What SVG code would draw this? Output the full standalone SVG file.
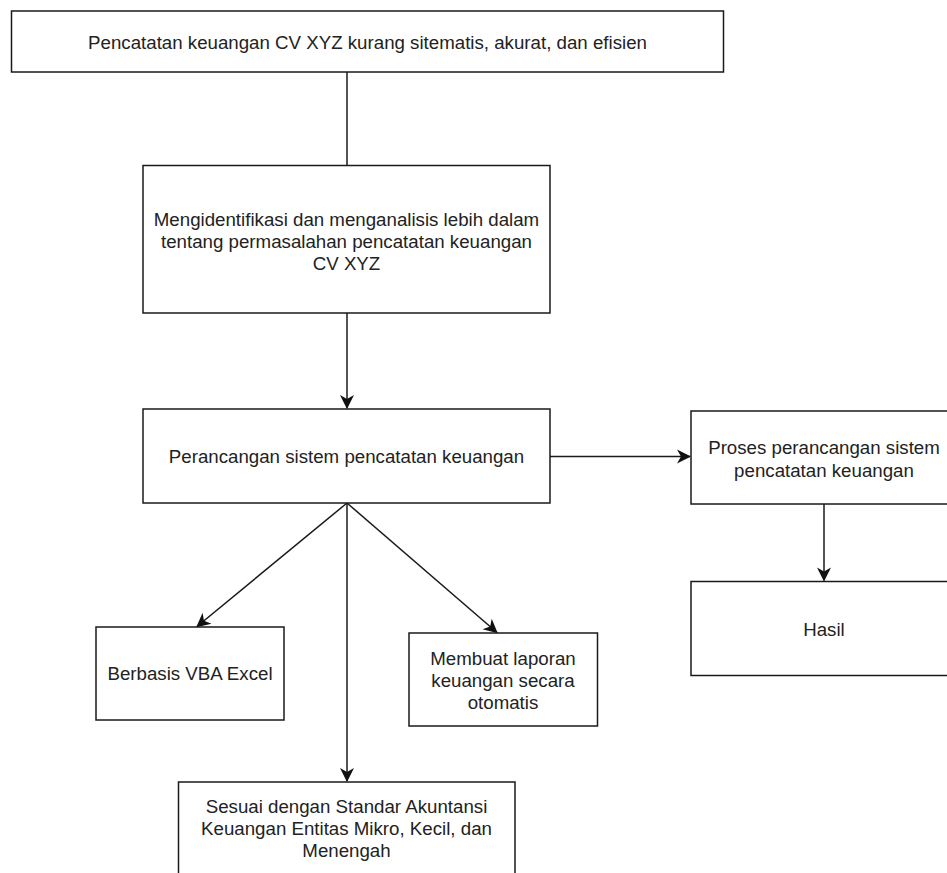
<svg xmlns="http://www.w3.org/2000/svg" width="947" height="873" viewBox="0 0 947 873">
<style>
.box{fill:#fff;stroke:#1a1a1a;stroke-width:1.5}
.t{font-family:"Liberation Sans",Arial,sans-serif;font-size:18.7px;fill:#222;text-anchor:middle}
.c{fill:none;stroke:#1a1a1a;stroke-width:1.5}
</style>
<defs>
<marker id="ah" markerUnits="userSpaceOnUse" markerWidth="16" markerHeight="16" viewBox="0 0 16 16" refX="14" refY="8" orient="auto">
<path d="M1,1 L15,8 L1,15 L5,8 z" fill="#111"/>
</marker>
</defs>
<rect width="947" height="873" fill="#fff"/>
<g id="connectors">
<line class="c" x1="347" y1="72" x2="347" y2="165.5"/>
<line class="c" x1="347" y1="313" x2="347" y2="408" marker-end="url(#ah)"/>
<line class="c" x1="550" y1="456.5" x2="690" y2="456.5" marker-end="url(#ah)"/>
<line class="c" x1="824" y1="504" x2="824" y2="580.5" marker-end="url(#ah)"/>
<line class="c" x1="347" y1="503" x2="197" y2="626.5" marker-end="url(#ah)"/>
<line class="c" x1="347" y1="503" x2="497" y2="632.5" marker-end="url(#ah)"/>
<line class="c" x1="347" y1="503" x2="347" y2="781" marker-end="url(#ah)"/>
</g>
<g id="n1">
<rect class="box" x="11.5" y="11" width="712" height="61"/>
<text class="t" x="367.5" y="48.5">Pencatatan keuangan CV XYZ kurang sitematis, akurat, dan efisien</text>
</g>
<g id="n2">
<rect class="box" x="143" y="165.5" width="407" height="147.5"/>
<text class="t" x="346.5" y="226">Mengidentifikasi dan menganalisis lebih dalam</text>
<text class="t" x="346.5" y="248">tentang permasalahan pencatatan keuangan</text>
<text class="t" x="346.5" y="270">CV XYZ</text>
</g>
<g id="n3">
<rect class="box" x="143" y="409" width="407" height="94"/>
<text class="t" x="346.5" y="463">Perancangan sistem pencatatan keuangan</text>
</g>
<g id="n4">
<rect class="box" x="691" y="411" width="266" height="93"/>
<text class="t" x="824" y="454">Proses perancangan sistem</text>
<text class="t" x="824" y="476.5">pencatatan keuangan</text>
</g>
<g id="n5">
<rect class="box" x="691" y="581.5" width="266" height="94"/>
<text class="t" x="824" y="636">Hasil</text>
</g>
<g id="n6">
<rect class="box" x="96" y="627" width="188" height="93"/>
<text class="t" x="190" y="680">Berbasis VBA Excel</text>
</g>
<g id="n7">
<rect class="box" x="409" y="633" width="188.5" height="93"/>
<text class="t" x="503" y="665">Membuat laporan</text>
<text class="t" x="503" y="687">keuangan secara</text>
<text class="t" x="503" y="709">otomatis</text>
</g>
<g id="n8">
<rect class="box" x="178.5" y="782" width="336.5" height="100"/>
<text class="t" x="346.5" y="813">Sesuai dengan Standar Akuntansi</text>
<text class="t" x="346.5" y="835">Keuangan Entitas Mikro, Kecil, dan</text>
<text class="t" x="346.5" y="857">Menengah</text>
</g>
</svg>
